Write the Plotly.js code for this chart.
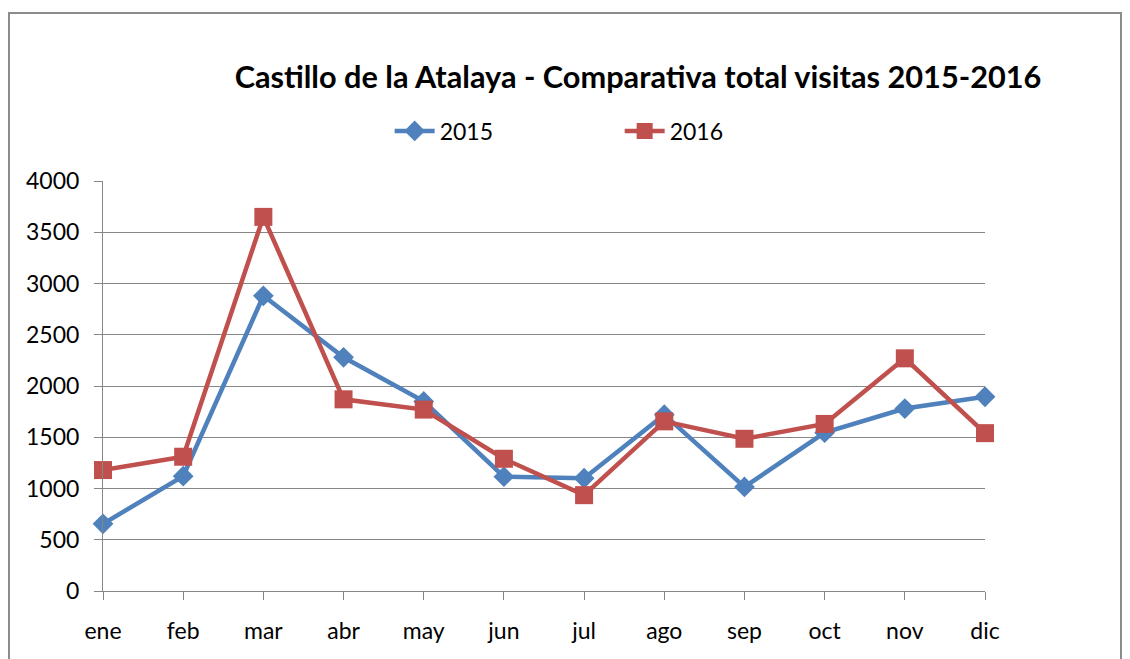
<!DOCTYPE html>
<html>
<head>
<meta charset="utf-8">
<script src="https://cdn.plot.ly/plotly-3.0.1.min.js"></script>
<style>
  html, body { margin: 0; padding: 0; background: #ffffff; overflow: hidden; }
  #chart { width: 1130px; height: 659px; }
  #frame { position: absolute; left: 8px; top: 12px; width: 1114px; height: 700px;
           border: 2px solid #8c8c8c; pointer-events: none; box-sizing: border-box; }
</style>
</head>
<body>
<div id="chart"></div>
<div id="frame"></div>
<script>
const months = ["ene", "feb", "mar", "abr", "may", "jun", "jul", "ago", "sep", "oct", "nov", "dic"];
const visitas2015 = [655, 1120, 2880, 2280, 1850, 1115, 1100, 1720, 1015, 1545, 1780, 1895];
const visitas2016 = [1180, 1310, 3650, 1870, 1770, 1290, 935, 1655, 1485, 1630, 2270, 1540];
const yTicks = [0, 500, 1000, 1500, 2000, 2500, 3000, 3500, 4000];

const FONT = 'Lato, "Liberation Sans", sans-serif';

const traces = [
  {
    x: months, y: visitas2015, name: "2015", type: "scatter", mode: "lines+markers",
    line: { color: "#4F81BD", width: 4.5 },
    marker: { symbol: "diamond", size: 16, color: "#4F81BD" },
    cliponaxis: false
  },
  {
    x: months, y: visitas2016, name: "2016", type: "scatter", mode: "lines+markers",
    line: { color: "#C0504D", width: 4.5 },
    marker: { symbol: "square", size: 18, color: "#C0504D" },
    cliponaxis: false
  }
];

const layout = {
  width: 1130, height: 659,
  margin: { l: 103, r: 145, t: 181, b: 68 },
  paper_bgcolor: "#ffffff", plot_bgcolor: "#ffffff",
  font: { family: FONT, size: 22, color: "#000000" },
  title: {
    text: "<b>Castillo de la Atalaya - Comparativa total visitas 2015-2016</b>",
    font: { family: FONT, size: 30.7, color: "#000000" },
    x: 638 / 1130, xanchor: "center", xref: "container",
    y: 1 - 77 / 659, yanchor: "middle", yref: "container"
  },
  showlegend: true,
  legend: {
    orientation: "h", x: 0.325, xanchor: "left", y: 1 + 50 / 410, yanchor: "middle",
    font: { family: FONT, size: 23, color: "#000000" },
    entrywidth: 175, entrywidthmode: "pixels", itemwidth: 40,
    bgcolor: "rgba(0,0,0,0)"
  },
  xaxis: {
    type: "category", range: [0, 11], autorange: false,
    showgrid: false, zeroline: false,
    showline: true, linecolor: "#868686", linewidth: 1,
    ticks: "outside", ticklen: 8, tickcolor: "#868686", tickwidth: 1,
    tickfont: { family: FONT, size: 23, color: "#000000" },
    ticklabelstandoff: 11,
    fixedrange: true
  },
  yaxis: {
    range: [0, 4000], autorange: false,
    tickvals: yTicks, ticktext: yTicks.map(String),
    showgrid: true, gridcolor: "#868686", gridwidth: 1,
    zeroline: false,
    showline: true, linecolor: "#868686", linewidth: 1,
    ticks: "outside", ticklen: 8, tickcolor: "#868686", tickwidth: 1,
    tickfont: { family: FONT, size: 23, color: "#000000" },
    ticklabelstandoff: 10,
    fixedrange: true
  }
};

Plotly.newPlot("chart", traces, layout, { displayModeBar: false, staticPlot: true });
</script>
</body>
</html>
